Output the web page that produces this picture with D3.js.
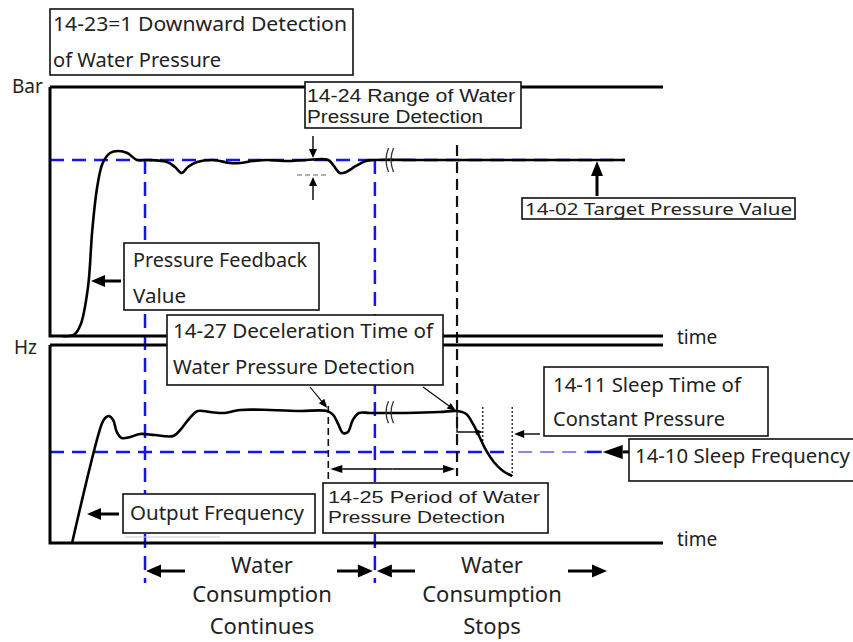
<!DOCTYPE html>
<html>
<head>
<meta charset="utf-8">
<script src="https://cdn.jsdelivr.net/npm/d3@7"></script>
<style>
body { margin: 0; background: #fff; }
text { font-family: "Noto Sans", "Open Sans", sans-serif; fill: #222; }
text.tight { font-family: "Liberation Sans", Arial, sans-serif; }
</style>
</head>
<body>
<div id="chart"></div>
<script>
// time in arbitrary units (0..100), pressure in % of target, frequency in % of running speed
var timeDomain = [0, 100];
var pressureDomain = [0, 100];
var freqDomain = [0, 100];

var pressureFeedback = [
  [2.0, 0], [3.9, 0.6], [5.0, 6.5], [6.2, 27.8], [6.9, 60.2], [7.7, 84.7], [8.6, 98.3],
  [9.8, 104.0], [11.1, 105.1], [12.6, 104.0], [14.2, 100], [15.8, 100], [19.1, 98.9],
  [20.4, 96.0], [21.5, 92.6], [22.5, 96.0], [24.0, 98.9], [26.6, 100], [29.4, 98.3],
  [31.0, 98.3], [33.1, 99.4], [35.4, 100], [38.7, 99.4], [41.9, 100], [45.4, 100],
  [46.3, 96.6], [47.3, 92.6], [48.3, 93.2], [49.9, 96.6], [51.5, 99.4], [52.9, 100],
  [60, 100], [75, 100], [93.8, 100]
];

var outputFrequency = [
  [3.6, 0], [8.5, 90.9], [9.0, 94.7], [9.6, 96.2], [10.3, 93.2], [10.9, 84.1],
  [11.7, 79.5], [13.1, 80.3], [14.7, 82.6], [17.1, 81.8], [20.1, 81.1], [21.5, 87.1],
  [22.8, 94.7], [24.1, 100], [26.1, 99.2], [28.5, 98.5], [31.0, 100.8], [35.9, 100.8],
  [40.8, 100], [45.2, 100], [46.2, 97.0], [47.0, 90.2], [47.8, 83.3], [48.6, 84.1],
  [49.4, 93.2], [50.4, 98.5], [52.2, 98.5], [58, 98.5], [63.6, 99.2], [66.4, 100],
  [67.9, 97.7], [69.0, 90.2], [70.0, 81.1], [71.1, 70.5], [72.4, 61.4], [73.9, 54.5], [75.4, 50.8]
];

var targetPressure = 100, targetEnd = 93.8;
var sleepFrequency = 69, sleepLineEnd = 90;
var consumptionStart = 15.5, consumptionStop = 53;
var detectStart = 45.4, detectEnd = 66.4;
var sleepStart = 70.6, sleepEnd = 75.4;
var breakAt = 54.9;

var W = 853, H = 642;
var svg = d3.select("#chart").append("svg").attr("width", W).attr("height", H);

var x = d3.scaleLinear().domain(timeDomain).range([50, 663]);
var yP = d3.scaleLinear().domain(pressureDomain).range([336, 160]);
var yF = d3.scaleLinear().domain(freqDomain).range([543, 411]);

var blue = "#1414f0";

function seg(x1, y1, x2, y2) {
  return svg.append("line").attr("x1", x1).attr("y1", y1).attr("x2", x2).attr("y2", y2);
}

// arrow with a filled triangular head at (x2,y2)
function arrow(x1, y1, x2, y2, len, wid, sw) {
  var a = Math.atan2(y2 - y1, x2 - x1);
  var bx = x2 - len * Math.cos(a), by = y2 - len * Math.sin(a);
  seg(x1, y1, bx, by).attr("stroke", "#000").attr("stroke-width", sw);
  var px = -Math.sin(a) * wid / 2, py = Math.cos(a) * wid / 2;
  svg.append("path")
    .attr("d", "M" + x2 + "," + y2 + "L" + (bx + px) + "," + (by + py) + "L" + (bx - px) + "," + (by - py) + "Z")
    .attr("fill", "#000");
}

function box(bx, by, bw, bh, lines, size, cls) {
  svg.append("rect").attr("x", bx).attr("y", by).attr("width", bw).attr("height", bh)
    .attr("fill", "#fff").attr("stroke", "#111").attr("stroke-width", 1.6);
  lines.forEach(function(l) {
    svg.append("text").attr("class", cls || null).attr("x", l[1]).attr("y", l[2]).attr("font-size", size)
      .attr("textLength", l[3]).attr("lengthAdjust", "spacingAndGlyphs").text(l[0]);
  });
}

/********************* blue reference lines *********************/
seg(x(0), yP(targetPressure), x(targetEnd), yP(targetPressure))
  .attr("stroke", blue).attr("stroke-width", 2.5).attr("stroke-dasharray", "14,8");
seg(x(0), yF(sleepFrequency), x(sleepEnd), yF(sleepFrequency))
  .attr("stroke", blue).attr("stroke-width", 2.5).attr("stroke-dasharray", "14,8");
seg(x(sleepEnd) + 6, yF(sleepFrequency), x(87.6), yF(sleepFrequency))
  .attr("stroke", "#8a8ae6").attr("stroke-width", 2).attr("stroke-dasharray", "14,8");
seg(x(87.6), yF(sleepFrequency), x(sleepLineEnd), yF(sleepFrequency))
  .attr("stroke", blue).attr("stroke-width", 2.5);

[consumptionStart, consumptionStop].forEach(function(t) {
  seg(x(t), yP(targetPressure), x(t), 583)
    .attr("stroke", blue).attr("stroke-width", 2.5).attr("stroke-dasharray", "14,8");
});

/********************* black dashed markers *********************/
seg(x(detectEnd), 145, x(detectEnd), 476)
  .attr("stroke", "#111").attr("stroke-width", 2.2).attr("stroke-dasharray", "11,6");
seg(x(detectStart), 406, x(detectStart), 484)
  .attr("stroke", "#111").attr("stroke-width", 1.6).attr("stroke-dasharray", "7,4");

[sleepStart, sleepEnd].forEach(function(t, i) {
  seg(x(t), 407, x(t), i ? yF(50.8) : 444)
    .attr("stroke", "#111").attr("stroke-width", 1.3).attr("stroke-dasharray", "2,2");
});

/********************* curves *********************/
var lineP = d3.line().x(function(d) { return x(d[0]); }).y(function(d) { return yP(d[1]); })
  .curve(d3.curveCatmullRom.alpha(0.5));
var lineF = d3.line().x(function(d) { return x(d[0]); }).y(function(d) { return yF(d[1]); })
  .curve(d3.curveCatmullRom.alpha(0.5));

svg.append("path").attr("d", lineP(pressureFeedback))
  .attr("fill", "none").attr("stroke", "#000").attr("stroke-width", 2.6);
svg.append("path").attr("d", lineF(outputFrequency))
  .attr("fill", "none").attr("stroke", "#000").attr("stroke-width", 2.6);

// break marks
[[yP(100), 12], [yF(99), 11]].forEach(function(b) {
  var bx = x(breakAt), cy = b[0], h = b[1];
  [0, 5].forEach(function(dx) {
    svg.append("path")
      .attr("d", "M" + (bx + dx + 2) + "," + (cy - h) + "Q" + (bx + dx - 3) + "," + cy + " " + (bx + dx + 2) + "," + (cy + h))
      .attr("fill", "none").attr("stroke", "#333").attr("stroke-width", 1.3);
  });
});

/********************* axes frame *********************/
svg.append("path")
  .attr("d", "M50,87H663 M50,87V336H663 M50,345H663 M50,345V543H663")
  .attr("fill", "none").attr("stroke", "#000").attr("stroke-width", 3);

svg.append("text").attr("x", 12).attr("y", 93).attr("font-size", 19).text("Bar");
svg.append("text").attr("x", 14).attr("y", 354).attr("font-size", 19).text("Hz");
svg.append("text").attr("x", 677).attr("y", 344).attr("font-size", 19).text("time");
svg.append("text").attr("x", 677).attr("y", 546).attr("font-size", 19).text("time");

/********************* small annotations *********************/
// range of detection
arrow(313, 136, 313, yP(100) - 2, 9, 8, 1.4);
arrow(313, 200, 313, 177, 9, 8, 1.4);
seg(297, 175, 328, 175).attr("stroke", "#999").attr("stroke-width", 1.3).attr("stroke-dasharray", "5,3");

// target pressure arrow
arrow(597, 196, 597, yP(targetPressure) + 1, 15, 12, 3);

// sleep time step
svg.append("path").attr("d", "M" + x(detectEnd) + "," + yF(100) + "V432H" + (x(sleepStart) - 6))
  .attr("fill", "none").attr("stroke", "#111").attr("stroke-width", 1.4);
arrow(x(sleepStart) - 8, 432, x(sleepStart), 432, 7, 6, 1.2);
arrow(540, 434, x(sleepEnd) + 2, 434, 10, 8, 1.4);

// sleep frequency arrow
arrow(629, yF(sleepFrequency), x(sleepLineEnd) + 1, yF(sleepFrequency), 20, 14, 3);

// period of detection double arrow
arrow((x(detectStart) + x(detectEnd)) / 2, 469, x(detectStart) + 2, 469, 12, 8, 1.5);
arrow((x(detectStart) + x(detectEnd)) / 2, 469, x(detectEnd) - 2, 469, 12, 8, 1.5);

// deceleration arrows
arrow(310, 387, x(detectStart) - 1, 408, 9, 7, 1.1);
arrow(423, 387, x(detectEnd) - 1, 411, 9, 7, 1.1);

// label arrows
arrow(121, 281, 91, 281, 14, 12, 3);
arrow(119, 514, 87, 514, 14, 12, 3);

seg(125, 537, 220, 537).attr("stroke", "#ccc").attr("stroke-width", 1);

/********************* boxes *********************/
box(50, 9, 303, 66, [["14-23=1 Downward Detection", 53, 31, 294], ["of Water Pressure", 53, 67, 168]], 20);
box(305, 82, 216, 46, [["14-24 Range of Water", 307, 102, 208], ["Pressure Detection", 307, 123, 176]], 17.5, "tight");
box(124, 243, 195, 67, [["Pressure Feedback", 133, 267, 174], ["Value", 133, 303, 53]], 20);
box(522, 198, 273, 21, [["14-02 Target Pressure Value", 525, 215, 267]], 17);
box(167, 315, 276, 70, [["14-27 Deceleration Time of", 173, 338, 260], ["Water Pressure Detection", 173, 374, 242]], 20);
box(544, 367, 224, 69, [["14-11 Sleep Time of", 553, 392, 188], ["Constant Pressure", 553, 426, 172]], 20);
box(629, 439, 232, 42, [["14-10 Sleep Frequency", 635, 463, 215]], 20);
box(323, 483, 225, 50, [["14-25 Period of Water", 328, 503, 212], ["Pressure Detection", 328, 523, 177]], 17, "tight");
box(123, 494, 192, 39, [["Output Frequency", 130, 520, 174]], 20);

/********************* consumption phases *********************/
var phases = [
  {lines: ["Water", "Consumption", "Continues"], cx: 262},
  {lines: ["Water", "Consumption", "Stops"], cx: 492}
];
phases.forEach(function(p) {
  p.lines.forEach(function(s, i) {
    svg.append("text").attr("x", p.cx).attr("y", [573, 602, 634][i]).attr("font-size", 22)
      .attr("text-anchor", "middle").text(s);
  });
});
arrow(185, 571, x(consumptionStart) + 1, 571, 15, 13, 3);
arrow(337, 571, x(consumptionStop) - 2, 571, 15, 13, 3);
arrow(415, 571, x(consumptionStop) + 2, 571, 15, 13, 3);
arrow(568, 571, 607, 571, 15, 13, 3);
</script>
</body>
</html>
